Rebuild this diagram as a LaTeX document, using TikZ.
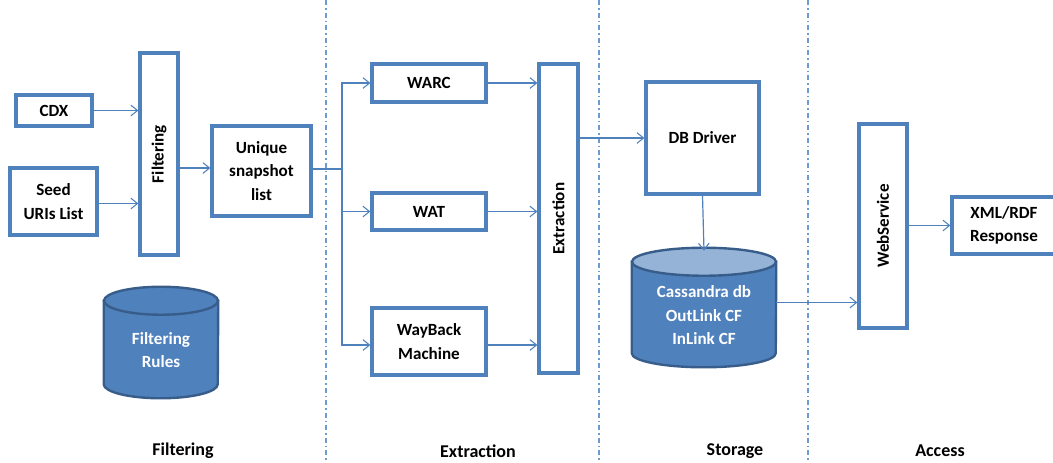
\documentclass[tikz,border=0pt]{standalone}
\usepackage{fontspec}
\setmainfont{Carlito}
\usetikzlibrary{arrows.meta}
\newdimen\px \px=0.75pt
\definecolor{ofblue}{HTML}{4F81BD}
\definecolor{ofdark}{HTML}{385D8A}
\definecolor{oflight}{HTML}{95B3D7}
\definecolor{divblue}{HTML}{6F9AD0}
\tikzset{
  box/.style={draw=ofblue, line width=2.4pt, fill=white, font=\fontsize{12.8}{17.6}\selectfont\bfseries, align=center, inner sep=0pt},
  arr/.style={draw=ofblue, line width=0.9pt, -{Straight Barb[length=5pt,width=8pt,line width=0.8pt]}},
  plain/.style={draw=ofblue, line width=0.9pt},
  divider/.style={draw=divblue, line width=0.9pt, dash pattern=on 5\px off 3\px on 1.5\px off 3\px},
  cyltext/.style={text=white, font=\fontsize{12.8}{17.6}\selectfont\bfseries, align=center},
  rlbl/.style={font=\fontsize{12.8}{14}\selectfont\bfseries},
  lbl/.style={font=\fontsize{13.5}{14}\selectfont\bfseries},
  cylbody/.style={fill=ofblue, draw=ofdark, line width=1.8pt},
  cyltop/.style={fill=oflight, draw=ofdark, line width=1.8pt}
}
\begin{document}
\begin{tikzpicture}[x=0.75pt,y=-0.75pt]
\useasboundingbox (0,0) rectangle (1053,462);
% dividers
\draw[divider] (326,0) -- (326,462);
\draw[divider] (599,0) -- (599,462);
\draw[divider] (808,0) -- (808,462);

% Filtering column
\node[box, minimum width=76\px, minimum height=31\px] (cdx) at (54,110.5) {CDX};
\node[box, minimum width=87\px, minimum height=67\px] (seed) at (53.5,201.5) {Seed\\URIs List};
\node[box, minimum width=38\px, minimum height=202\px] (filt) at (159,154) {};
\node[rlbl, rotate=90] (filttext) at (filt.center) {Filtering};
\node[box, minimum width=99\px, minimum height=90\px] (uniq) at (261.5,171) {Unique\\snapshot\\list};

% Filtering Rules cylinder
\node[minimum width=114\px, minimum height=111\px, inner sep=0pt] (rules) at (161,342.5) {};
\path[cylbody] (rules.north west) ++(0,14) -- ([yshift=14\px]rules.south west)
  arc[start angle=180, end angle=0, x radius=57, y radius=14] -- ([yshift=-14\px]rules.north east) -- cycle;
\path[cylbody] ([yshift=-14\px]rules.north) ellipse[x radius=57, y radius=14];
\node[cyltext] (rulestext) at (161,350) {Filtering\\Rules};

% Extraction column
\node[box, minimum width=114\px, minimum height=38\px] (warc) at (429,83) {WARC};
\node[box, minimum width=114\px, minimum height=37\px] (wat) at (429,211.5) {WAT};
\node[box, minimum width=114\px, minimum height=67\px] (wayb) at (429,341.5) {WayBack\\Machine};
\node[box, minimum width=39\px, minimum height=309\px] (extr) at (558.5,218.5) {};
\node[rlbl, rotate=90] (extrtext) at (extr.center) {Extraction};

% Storage column
\node[box, minimum width=113\px, minimum height=112\px] (db) at (702.5,138) {DB Driver};
\node[minimum width=144\px, minimum height=119\px, inner sep=0pt] (cass) at (704,307.5) {};
\path[cylbody] (cass.north west) ++(0,14) -- ([yshift=14\px]cass.south west)
  arc[start angle=180, end angle=0, x radius=72, y radius=14] -- ([yshift=-14\px]cass.north east) -- cycle;
\path[cyltop] ([yshift=-14\px]cass.north) ellipse[x radius=72, y radius=14];
\node[cyltext] (casstext) at (704,315.5) {Cassandra db\\OutLink CF\\InLink CF};

% Access column
\node[box, minimum width=48\px, minimum height=204\px] (ws) at (883,226) {};
\node[rlbl, rotate=90] (wstext) at (ws.center) {WebService};
\node[box, minimum width=104\px, minimum height=57\px] (xml) at (1004,225.5) {XML/RDF\\Response};

% connectors
\draw[arr] (cdx.east) -- (cdx.east -| filt.west);
\draw[arr] ([yshift=-2\px]seed.east) -- ([yshift=-2\px]seed.east -| filt.west);
\draw[arr] ([yshift=3\px]filt.east |- uniq.west) -- ([yshift=3\px]uniq.west);
\coordinate (br) at (342,169);
\draw[plain] ([yshift=2\px]uniq.east) -- (br);
\draw[arr] (br) |- (warc.west);
\draw[arr] (br) |- (wat.west);
\draw[arr] (br) |- ([yshift=-3.5\px]wayb.west);
\draw[arr] (warc.east) -- (warc.east -| extr.west);
\draw[arr] (wat.east) -- (wat.east -| extr.west);
\draw[arr] ([yshift=-3.5\px]wayb.east) -- ([yshift=-3.5\px]wayb.east -| extr.west);
\draw[arr] (extr.east |- db.west) -- (db.west);
\draw[arr] (db.south) -- ([yshift=-3\px]cass.north);
\draw[arr] ([yshift=5\px]cass.east) -- ([yshift=5\px]cass.east -| ws.west);
\draw[arr] (ws.east |- xml.west) -- (xml.west);

% bottom labels
\node[lbl] (l1) at (183,451) {Filtering};
\node[lbl] (l2) at (478,451) {Extraction};
\node[lbl] (l3) at (735,451) {Storage};
\node[lbl] (l4) at (940,451) {Access};
\end{tikzpicture}
\end{document}
